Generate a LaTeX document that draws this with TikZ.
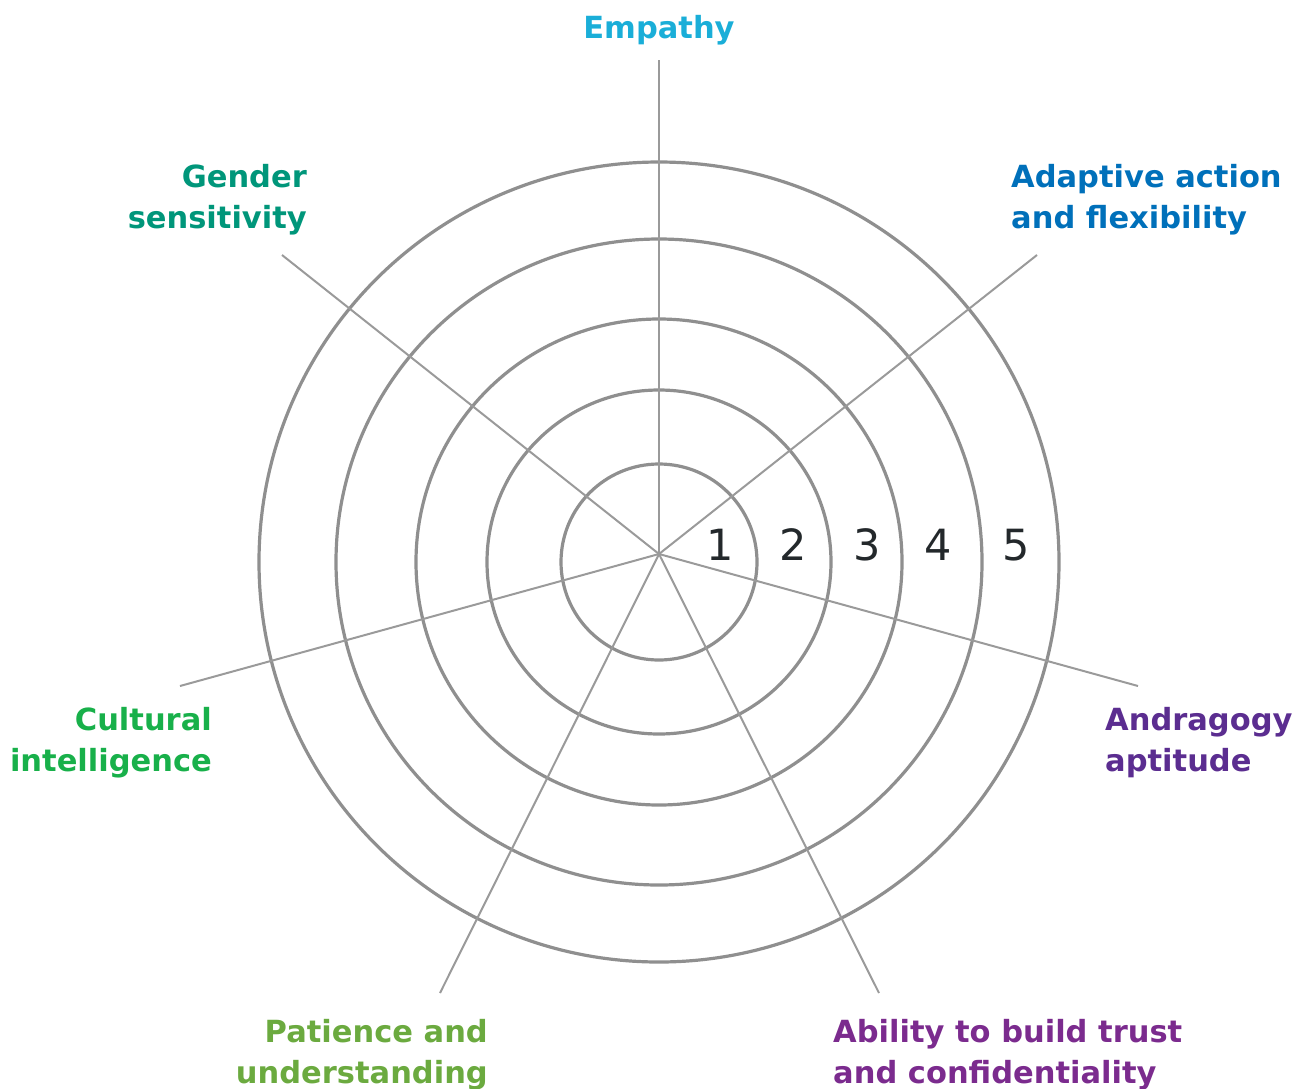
\documentclass[tikz,border=0pt]{standalone}
\usepackage{fontspec}
\setmainfont{DejaVu Sans}
\definecolor{cEmp}{HTML}{1AAED8}
\definecolor{cAda}{HTML}{0070BA}
\definecolor{cAnd}{HTML}{5B2D90}
\definecolor{cAbi}{HTML}{7B2B8E}
\definecolor{cPat}{HTML}{6BAA3F}
\definecolor{cCul}{HTML}{18B04A}
\definecolor{cGen}{HTML}{00967A}
\definecolor{ringgray}{HTML}{8F8F8F}
\definecolor{spokegray}{HTML}{9A9A9A}
\definecolor{numgray}{HTML}{23282B}
\begin{document}
\begin{tikzpicture}[x=1pt,y=-1pt,
  ring/.style={draw=ringgray,line width=3.2pt},
  spoke/.style={draw=spokegray,line width=2pt},
  lab/.style={font=\fontsize{30.5}{41}\selectfont\bfseries,inner sep=0pt},
  num/.style={font=\fontsize{43}{50}\selectfont,text=numgray,inner sep=0pt,anchor=base}]
\useasboundingbox (0,0) rectangle (1304,1088);
\coordinate (c) at (659,562);
\coordinate (o) at (659,554);
\foreach \r in {98,172,243,323,400} \draw[ring] (c) circle[radius=\r];
\coordinate (e1) at (659,60);
\coordinate (e2) at (1037,255);
\coordinate (e3) at (1138,686);
\coordinate (e4) at (879,993);
\coordinate (e5) at (440,993);
\coordinate (e6) at (180,686);
\coordinate (e7) at (282,255);
\foreach \i in {1,...,7} \draw[spoke] (o) -- (e\i);
\node[num] (n1) at (720,560) {1};
\node[num] (n2) at (793,560) {2};
\node[num] (n3) at (867,560) {3};
\node[num] (n4) at (938,560) {4};
\node[num] (n5) at (1016,560) {5};
\node[lab,text=cEmp,anchor=base] (lEmp) at (659,38) {Empathy};
\node[lab,text=cAda,anchor=base west,align=left] (lAda) at (1011,228) {Adaptive action\\and flexibility};
\node[lab,text=cGen,anchor=base east,align=right] (lGen) at (307,228) {Gender\\sensitivity};
\node[lab,text=cCul,anchor=base east,align=right] (lCul) at (212,771) {Cultural\\intelligence};
\node[lab,text=cAnd,anchor=base west,align=left] (lAnd) at (1105,771) {Andragogy\\aptitude};
\node[lab,text=cPat,anchor=base east,align=right] (lPat) at (488,1083) {Patience and\\understanding};
\node[lab,text=cAbi,anchor=base west,align=left] (lAbi) at (833,1083) {Ability to build trust\\and confidentiality};
\end{tikzpicture}
\end{document}
